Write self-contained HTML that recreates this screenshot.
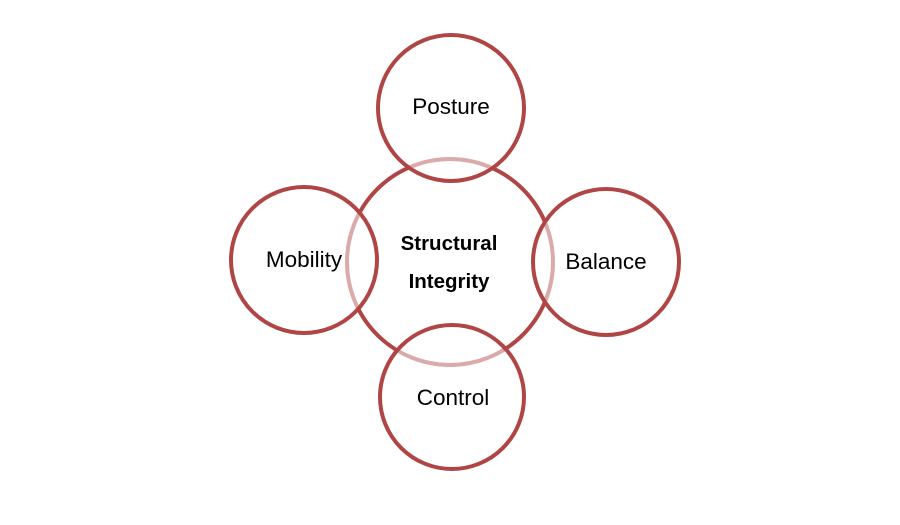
<!DOCTYPE html>
<html><head><meta charset="utf-8"><style>
html,body{margin:0;padding:0;background:#fff;width:900px;height:525px;overflow:hidden}
svg{display:block}
text{font-family:"Liberation Sans",sans-serif;fill:#000}
</style></head><body>
<svg width="900" height="525" viewBox="0 0 900 525">
<circle cx="450" cy="262" r="103" fill="none" stroke="#b04545" stroke-width="4"/>
<g fill="#fff" fill-opacity="0.55" stroke="#b04545" stroke-width="4">
<circle cx="451" cy="108" r="73"/>
<circle cx="304" cy="260" r="73"/>
<circle cx="606" cy="262" r="73"/>
<circle cx="452" cy="397" r="72"/>
</g>
<text x="451" y="114" font-size="22.5" text-anchor="middle">Posture</text>
<text x="304" y="267" font-size="22.5" text-anchor="middle">Mobility</text>
<text x="606" y="269" font-size="22.5" text-anchor="middle">Balance</text>
<text x="453" y="405" font-size="22.5" text-anchor="middle">Control</text>
<text x="449" y="250" font-size="20.5" font-weight="bold" text-anchor="middle">Structural</text>
<text x="449" y="288" font-size="20.5" font-weight="bold" text-anchor="middle">Integrity</text>
</svg>
</body></html>
